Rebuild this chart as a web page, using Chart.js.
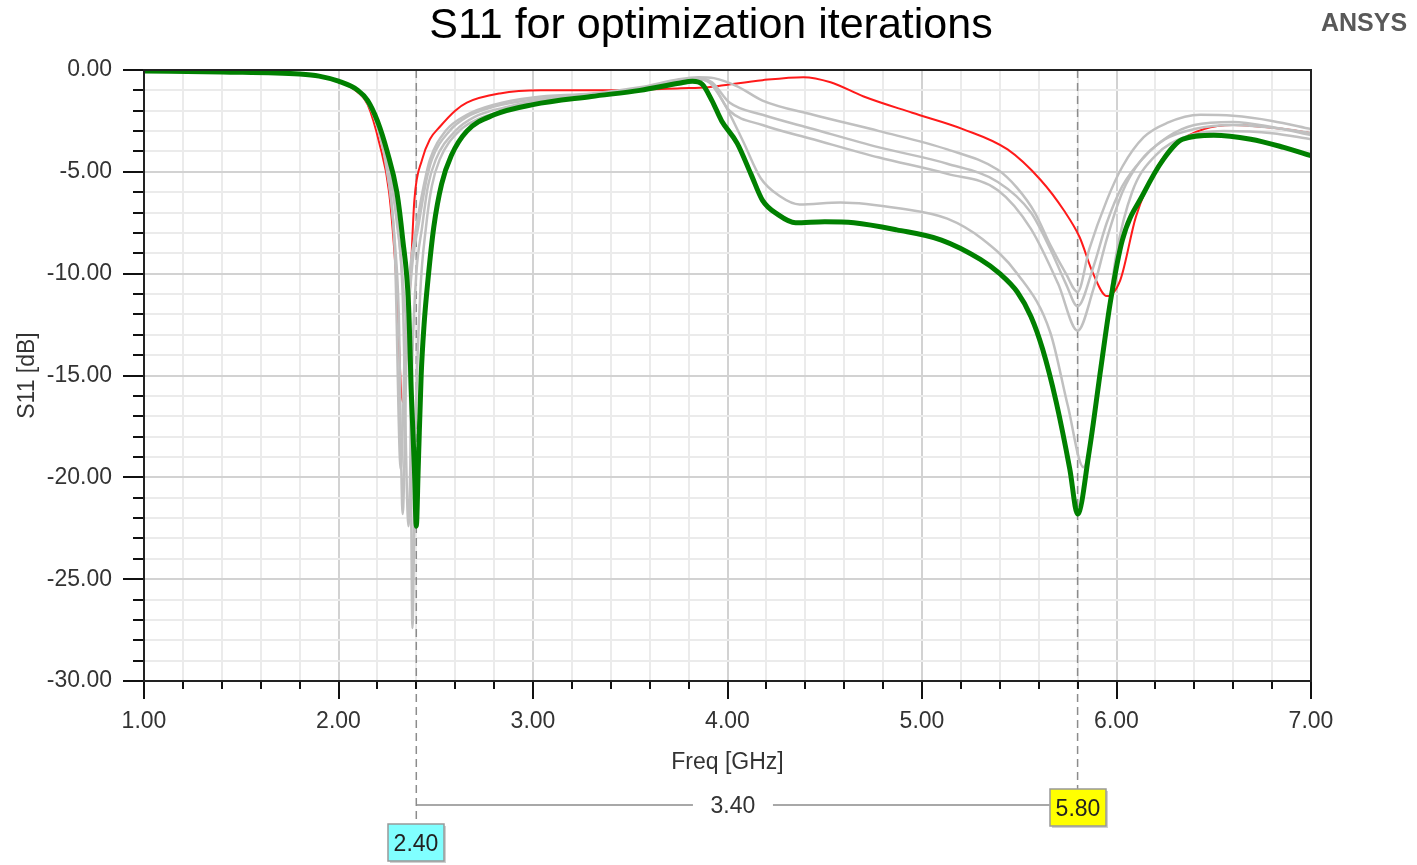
<!DOCTYPE html>
<html>
<head>
<meta charset="utf-8">
<script src="https://cdn.jsdelivr.net/npm/chart.js@4.4.0/dist/chart.umd.min.js"></script>
<style>
  html, body { margin: 0; padding: 0; background: #fff; }
</style>
</head>
<body>
<canvas id="myChart" width="1417" height="865"></canvas>
<script>
// S11 curves (GHz, dB)
var redFreq = [1.0,1.4,1.8,1.9,2.0,2.1,2.15,2.21,2.26,2.295,2.33,2.355,2.37,2.39,2.43,2.47,2.52,2.6,2.66,2.83,3.04,3.4,3.76,3.9,3.98,4.18,4.39,4.53,4.7,4.95,5.21,5.44,5.61,5.73,5.81,5.88,5.95,6.02,6.1,6.21,6.31,6.45,6.6,6.86,7.0];
var redDb   = [-0.05,-0.1,-0.2,-0.3,-0.55,-1.1,-1.7,-3.6,-6.0,-10.0,-16.3,-13.0,-10.3,-6.4,-4.4,-3.4,-2.8,-2.0,-1.6,-1.15,-1.0,-1.0,-0.9,-0.85,-0.75,-0.5,-0.35,-0.6,-1.3,-2.1,-2.9,-3.9,-5.4,-6.9,-8.2,-10.0,-11.1,-10.3,-7.2,-4.75,-3.6,-2.9,-2.7,-2.9,-3.1];

var grayAFreq = [1.0,1.4,1.8,1.9,2.0,2.1,2.15,2.2,2.25,2.29,2.32,2.345,2.37,2.40,2.44,2.47,2.55,2.66,2.8,3.0,3.3,3.55,3.75,3.85,3.93,4.05,4.18,4.44,4.78,5.13,5.39,5.49,5.58,5.66,5.74,5.80,5.86,5.95,6.03,6.14,6.26,6.43,6.6,6.8,7.0];
var grayADb   = [-0.05,-0.1,-0.2,-0.3,-0.55,-1.05,-1.6,-2.8,-5.0,-9.0,-19.6,-12.5,-9.6,-7.7,-5.6,-4.4,-3.0,-2.2,-1.7,-1.35,-1.15,-0.85,-0.45,-0.35,-0.4,-0.8,-1.5,-2.2,-3.0,-3.9,-4.9,-5.8,-7.0,-8.6,-10.0,-10.9,-8.8,-6.4,-4.75,-3.3,-2.6,-2.2,-2.25,-2.5,-2.9];

var grayBFreq = [1.0,1.4,1.8,1.9,2.0,2.1,2.15,2.2,2.25,2.29,2.31,2.33,2.35,2.38,2.41,2.45,2.48,2.57,2.66,2.8,3.0,3.3,3.55,3.75,3.85,3.92,4.01,4.18,4.44,4.78,5.13,5.39,5.56,5.66,5.74,5.80,5.88,5.95,6.03,6.14,6.26,6.4,6.6,6.8,7.0];
var grayBDb   = [-0.05,-0.1,-0.2,-0.3,-0.55,-1.05,-1.6,-2.7,-4.8,-8.5,-12.0,-21.8,-14.0,-9.5,-7.7,-5.5,-4.4,-3.0,-2.3,-1.8,-1.45,-1.2,-0.9,-0.5,-0.4,-0.6,-1.6,-2.2,-2.9,-3.8,-4.6,-5.5,-7.0,-8.8,-10.5,-11.6,-9.7,-7.5,-5.7,-4.3,-3.3,-2.7,-2.55,-2.8,-3.2];

var grayCFreq = [1.0,1.4,1.8,1.9,2.0,2.1,2.15,2.2,2.25,2.3,2.33,2.36,2.38,2.40,2.43,2.46,2.50,2.6,2.7,2.85,3.0,3.3,3.55,3.75,3.85,3.92,4.01,4.18,4.44,4.78,5.13,5.39,5.56,5.7,5.80,5.88,5.95,6.03,6.12,6.25,6.4,6.6,6.86,7.0];
var grayCDb   = [-0.05,-0.1,-0.2,-0.3,-0.55,-1.0,-1.55,-2.6,-4.5,-7.5,-11.0,-22.4,-14.0,-10.0,-7.7,-5.7,-4.4,-3.0,-2.3,-1.85,-1.55,-1.25,-0.95,-0.55,-0.45,-0.7,-2.0,-2.7,-3.4,-4.3,-5.1,-5.9,-7.8,-10.5,-12.8,-10.8,-8.3,-6.0,-4.5,-3.4,-2.9,-2.7,-2.9,-3.1];

var grayDFreq = [1.0,1.4,1.8,1.9,2.0,2.1,2.15,2.2,2.25,2.3,2.34,2.37,2.38,2.395,2.42,2.45,2.48,2.52,2.62,2.72,2.85,3.0,3.3,3.55,3.75,3.85,3.9,3.98,4.08,4.17,4.27,4.37,4.58,4.89,5.13,5.31,5.49,5.66,5.75,5.83,5.9,5.95,6.0,6.08,6.2,6.35,6.55,6.8,7.0];
var grayDDb   = [-0.05,-0.1,-0.2,-0.3,-0.55,-1.0,-1.5,-2.5,-4.3,-7.2,-11.5,-17.0,-27.4,-18.0,-11.0,-7.7,-5.7,-4.4,-3.0,-2.4,-2.0,-1.6,-1.25,-0.95,-0.55,-0.45,-0.55,-1.6,-3.5,-5.3,-6.2,-6.6,-6.5,-6.8,-7.3,-8.3,-10.0,-12.9,-16.5,-19.5,-16.0,-12.5,-9.0,-6.0,-4.2,-3.3,-3.0,-3.1,-3.4];

var greenFreq = [1.0,1.4,1.8,1.9,2.0,2.1,2.15,2.2,2.25,2.3,2.33,2.36,2.375,2.39,2.40,2.41,2.425,2.44,2.46,2.49,2.53,2.58,2.66,2.8,3.0,3.3,3.55,3.75,3.82,3.87,3.92,3.97,4.05,4.12,4.18,4.26,4.35,4.5,4.65,4.87,5.1,5.3,5.4,5.49,5.56,5.62,5.69,5.76,5.80,5.86,5.92,5.97,6.03,6.14,6.24,6.34,6.5,6.69,6.86,7.0];
var greenDb   = [-0.05,-0.1,-0.2,-0.3,-0.55,-1.0,-1.5,-2.5,-4.0,-6.0,-8.3,-11.5,-16.0,-19.5,-22.4,-19.5,-15.0,-12.5,-10.3,-7.7,-5.6,-4.2,-3.0,-2.2,-1.7,-1.3,-1.0,-0.65,-0.55,-0.7,-1.5,-2.5,-3.6,-5.1,-6.4,-7.1,-7.5,-7.45,-7.5,-7.85,-8.35,-9.3,-10.0,-10.9,-12.1,-13.7,-16.3,-19.6,-21.8,-18.7,-14.6,-11.3,-8.35,-6.05,-4.4,-3.4,-3.2,-3.4,-3.8,-4.2];

// marker frequencies (GHz)
var markerFreqs = [2.40, 5.80];

function pts(f, d) {
  return f.map(function (x, i) { return { x: x, y: d[i] }; });
}
function isWhole(v, step) {
  return Math.abs(v / step - Math.round(v / step)) < 1e-6;
}

var fontFam = '"Liberation Sans", Arial, sans-serif';
var chartTitle = 'S11 for optimization iterations';

var markerPlugin = {
  id: 'markers',
  beforeDatasetsDraw: function (chart) {
    var ctx = chart.ctx, area = chart.chartArea, xs = chart.scales.x;
    var x1 = xs.getPixelForValue(markerFreqs[0]);
    var x2 = xs.getPixelForValue(markerFreqs[1]);
    ctx.save();
    ctx.strokeStyle = '#8c8c8c';
    ctx.lineWidth = 1.5;
    ctx.setLineDash([8, 5]);
    ctx.beginPath();
    ctx.moveTo(x1, area.top); ctx.lineTo(x1, area.bottom + 143);
    ctx.moveTo(x2, area.top); ctx.lineTo(x2, area.bottom + 108);
    ctx.stroke();
    ctx.restore();
  },
  afterDraw: function (chart) {
    var ctx = chart.ctx, area = chart.chartArea, xs = chart.scales.x, ys = chart.scales.y;
    ctx.save();
    // title (centred a bit right of the canvas middle, as in the original)
    ctx.font = '43px ' + fontFam;
    ctx.fillStyle = '#000';
    ctx.textAlign = 'center';
    ctx.textBaseline = 'middle';
    ctx.fillText(chartTitle, 711, 26);

    // axis tick marks
    ctx.strokeStyle = '#111';
    ctx.lineWidth = 2;
    ctx.beginPath();
    xs.ticks.forEach(function (t) {
      var px = Math.round(xs.getPixelForValue(t.value));
      var len = isWhole(t.value, 1) ? 18 : 8;
      ctx.moveTo(px, area.bottom); ctx.lineTo(px, area.bottom + len);
    });
    ys.ticks.forEach(function (t) {
      var py = Math.round(ys.getPixelForValue(t.value));
      var len = isWhole(t.value, 5) ? 21 : 11;
      ctx.moveTo(area.left - len, py); ctx.lineTo(area.left, py);
    });
    ctx.stroke();
    // frame
    ctx.strokeStyle = '#222';
    ctx.strokeRect(area.left, area.top, area.right - area.left, area.bottom - area.top);

    // delta line between markers
    var x1 = xs.getPixelForValue(markerFreqs[0]);
    var x2 = xs.getPixelForValue(markerFreqs[1]);
    var boxW = 56, boxH = 37;
    var lineY = area.bottom + 124;
    var box2Left = x2 - boxW / 2;
    var mid = (x1 + box2Left) / 2;
    ctx.font = '23px ' + fontFam;
    var delta = (markerFreqs[1] - markerFreqs[0]).toFixed(2);
    ctx.strokeStyle = '#8c8c8c';
    ctx.lineWidth = 1.5;
    ctx.beginPath();
    ctx.moveTo(x1, lineY); ctx.lineTo(mid - 40, lineY);
    ctx.moveTo(mid + 40, lineY); ctx.lineTo(box2Left, lineY);
    ctx.stroke();
    ctx.fillStyle = '#333';
    ctx.fillText(delta, mid, lineY + 2);

    // marker boxes
    function box(x, top, fill, label) {
      var l = Math.round(x - boxW / 2);
      ctx.fillStyle = '#d0d0d0';
      ctx.fillRect(l + 2, top + 2, boxW, boxH);
      ctx.fillStyle = fill;
      ctx.fillRect(l, top, boxW, boxH);
      ctx.strokeStyle = '#999';
      ctx.lineWidth = 1.5;
      ctx.strokeRect(l, top, boxW, boxH);
      ctx.fillStyle = '#222';
      ctx.fillText(label, l + boxW / 2, top + boxH / 2 + 2);
    }
    box(x2, area.bottom + 108, '#ffff00', markerFreqs[1].toFixed(2));
    box(x1, area.bottom + 143, '#80ffff', markerFreqs[0].toFixed(2));

    // logo text
    ctx.font = 'bold 25px ' + fontFam;
    ctx.fillStyle = '#595959';
    ctx.textAlign = 'left';
    ctx.textBaseline = 'alphabetic';
    ctx.fillText('ANSYS', 1321, 31);
    ctx.restore();
  }
};

var myChart = document.getElementById('myChart').getContext('2d');

var s11Chart = new Chart(myChart, {
  type: 'line',
  data: {
    datasets: [
      { label: 'red', data: pts(redFreq, redDb), borderColor: '#ff1a1a', borderWidth: 2, order: 3 },
      { label: 'iterA', data: pts(grayAFreq, grayADb), borderColor: '#c0c0c0', borderWidth: 2.5, order: 2 },
      { label: 'iterB', data: pts(grayBFreq, grayBDb), borderColor: '#c0c0c0', borderWidth: 2.5, order: 2 },
      { label: 'iterC', data: pts(grayCFreq, grayCDb), borderColor: '#c0c0c0', borderWidth: 2.5, order: 2 },
      { label: 'iterD', data: pts(grayDFreq, grayDDb), borderColor: '#c0c0c0', borderWidth: 2.5, order: 2 },
      { label: 'final', data: pts(greenFreq, greenDb), borderColor: '#008000', borderWidth: 5, order: 1 }
    ]
  },
  options: {
    responsive: false,
    animation: false,
    layout: { padding: { left: 0, right: 106, top: 70, bottom: 0 } },
    elements: {
      point: { radius: 0 },
      line: { cubicInterpolationMode: 'monotone', fill: false }
    },
    plugins: {
      legend: { display: false },
      tooltip: { enabled: false },
      title: { display: false }
    },
    scales: {
      x: {
        type: 'linear',
        min: 1, max: 7,
        afterFit: function (s) { s.height = 184; },
        ticks: {
          stepSize: 0.2,
          autoSkip: false,
          maxRotation: 0,
          padding: 27,
          color: '#333',
          font: { family: fontFam, size: 23 },
          callback: function (v) { return isWhole(v, 1) ? v.toFixed(2) : ''; }
        },
        grid: {
          drawTicks: false,
          lineWidth: 2,
          color: function (c) { return c.tick && isWhole(c.tick.value, 1) ? '#d2d2d2' : '#ebebeb'; }
        },
        border: { display: false },
        title: {
          display: true,
          text: 'Freq [GHz]',
          color: '#333',
          font: { family: fontFam, size: 23 },
          padding: { top: 0, bottom: 89 }
        }
      },
      y: {
        min: -30, max: 0,
        afterFit: function (s) { s.width = 144; },
        ticks: {
          stepSize: 1,
          autoSkip: false,
          padding: 32,
          color: '#333',
          font: { family: fontFam, size: 23 },
          callback: function (v) { return isWhole(v, 5) ? v.toFixed(2) : ''; }
        },
        grid: {
          drawTicks: false,
          lineWidth: 2,
          color: function (c) { return c.tick && isWhole(c.tick.value, 5) ? '#d2d2d2' : '#ebebeb'; }
        },
        border: { display: false },
        title: {
          display: true,
          text: 'S11 [dB]',
          color: '#333',
          font: { family: fontFam, size: 23 },
          padding: { top: 14, bottom: 0 }
        }
      }
    }
  },
  plugins: [markerPlugin]
});
</script>
</body>
</html>
